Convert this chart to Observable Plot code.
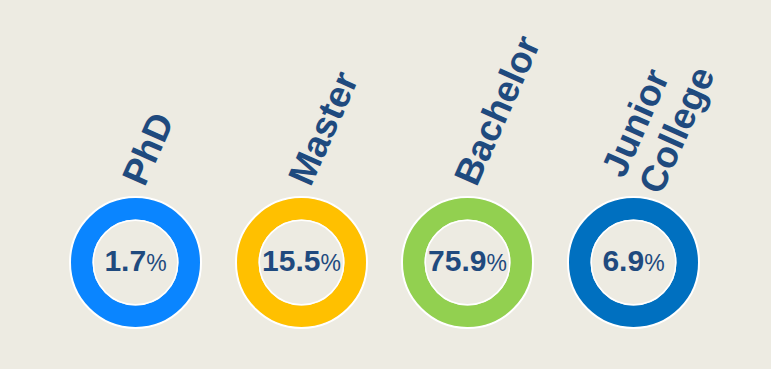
<!DOCTYPE html>
<html>
<head>
<meta charset="utf-8">
<script src="https://cdn.jsdelivr.net/npm/d3@7"></script>
<script src="https://cdn.jsdelivr.net/npm/@observablehq/plot@0.6"></script>
<style>
  html, body { margin: 0; padding: 0; background: #EDEBE2; }
  #chart svg { display: block; }
</style>
</head>
<body>
<div id="chart"></div>
<script>
const categories = ["PhD", "Master", "Bachelor", "Junior\nCollege"];
const shares = [1.7, 15.5, 75.9, 6.9];
const colors = ["#0A85FF", "#FFC000", "#92D050", "#0070C0"];

const data = categories.map((c, i) => ({ category: c, share: shares[i], color: colors[i] }));

const textColor = "#1F4A7E";
const font = "Arial, 'Liberation Sans', sans-serif";

const svg = Plot.plot({
  width: 771,
  height: 369,
  marginLeft: 135,
  marginRight: 138,
  marginTop: 155,
  marginBottom: 0,
  style: { background: "#EDEBE2", fontFamily: font },
  x: { type: "point", domain: categories, axis: null, padding: 0 },
  marks: [
    Plot.dot(data, { x: "category", r: 65.5, fill: "none", stroke: "white", strokeWidth: 2 }),
    Plot.dot(data, { x: "category", r: 53.75, fill: "none", stroke: "color", strokeWidth: 21.5 }),
    Plot.dot(data, { x: "category", r: 42.25, fill: "none", stroke: "white", strokeWidth: 1.5 }),
    Plot.text(data, {
      x: "category",
      text: d => d.share.toFixed(1) + "%",
      fill: textColor,
      fontSize: 30,
      fontWeight: "bold",
      textAnchor: "middle",
      dy: -1
    }),
    Plot.text(data, {
      x: "category",
      text: "category",
      fill: textColor,
      fontSize: 37,
      fontWeight: "bold",
      rotate: -66,
      textAnchor: "start",
      lineAnchor: "middle",
      lineHeight: 1.1,
      dx: -3,
      dy: -80
    })
  ]
});

// Render the "%" sign in normal weight and smaller size
d3.select(svg).selectAll("text").each(function () {
  const t = d3.select(this);
  const s = t.text();
  if (!s.endsWith("%")) return;
  const num = s.slice(0, -1);
  t.text(null);
  t.append("tspan").text(num);
  t.append("tspan").attr("font-weight", "normal").attr("font-size", 23).text("%");
});

document.getElementById("chart").appendChild(svg);
</script>
</body>
</html>
